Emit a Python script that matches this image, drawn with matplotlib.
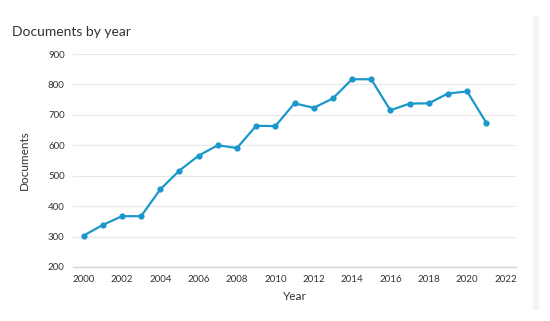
import matplotlib
matplotlib.use("Agg")
import matplotlib.pyplot as plt
from matplotlib.patches import Rectangle

years = list(range(2000, 2022))
documents = [303, 338, 367, 367, 455, 517, 566, 600, 591, 664, 663,
             738, 723, 754, 817, 817, 715, 737, 738, 770, 777, 674]
y_ticks = [200, 300, 400, 500, 600, 700, 800, 900]
x_ticks = list(range(2000, 2023, 2))

plt.rcParams['font.family'] = ['Lato', 'DejaVu Sans']

W, H = 550, 321
fig = plt.figure(figsize=(W / 100, H / 100), dpi=100)
fig.patch.set_facecolor('white')

ax = fig.add_axes([73 / W, 1 - 267 / H, (516 - 73) / W, (267 - 54) / H])
line_color = '#1a98cb'
ax.plot(years, documents, color=line_color, lw=1.6, marker='o', ms=4.5,
        markeredgewidth=0, zorder=3, clip_on=False)

ax.set_xlim(1999.45, 2022.55)
ax.set_ylim(200, 900)
ax.set_yticks(y_ticks)
ax.set_xticks(x_ticks)
ax.grid(axis='y', color='#e8e8e8', lw=0.9)
ax.grid(axis='x', visible=False)
for s in ['top', 'right', 'left']:
    ax.spines[s].set_visible(False)
ax.spines['bottom'].set_color('#d0d6dc')
ax.spines['bottom'].set_linewidth(1.0)
ax.tick_params(axis='both', length=0, labelsize=7, colors='#333333')
ax.tick_params(axis='y', pad=6)
ax.tick_params(axis='x', pad=6)

ax.set_xlabel('Year', fontsize=8.5, color='#333333', labelpad=5)
ax.set_ylabel('Documents', fontsize=8.5, color='#333333', labelpad=13)

fig.text(12 / W, 1 - 32 / H, 'Documents by year', fontsize=10,
         color='#333333', ha='left', va='center')

fig.patches.append(Rectangle((533 / W, 1 - 310 / H), 6 / W, (310 - 16) / H,
                             transform=fig.transFigure, facecolor='#f4f4f4',
                             edgecolor='none'))

fig.savefig('out.png', dpi=100, facecolor='white')
